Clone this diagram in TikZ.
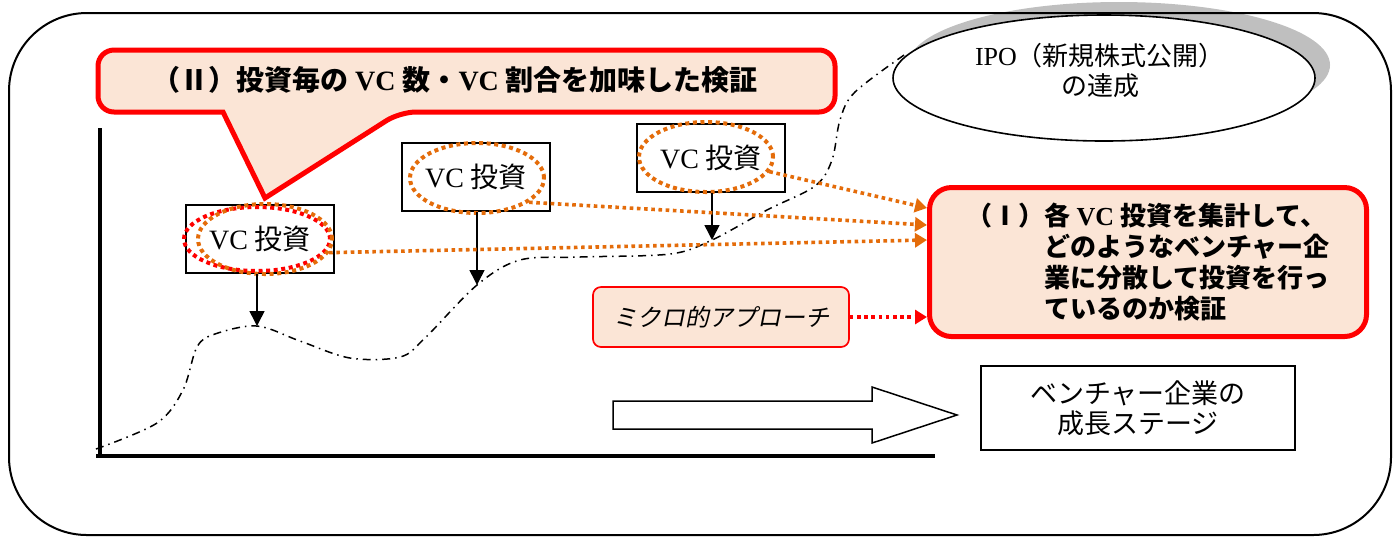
\documentclass[tikz,border=0pt]{standalone}
\usepackage{fontspec}
\setmainfont{Liberation Serif}
\newfontfamily\jp{Noto Sans CJK JP}
\newfontfamily\jpit{Noto Sans CJK JP}[FakeSlant=0.2]
\newcommand{\ja}[1]{{\jp #1}}
\usetikzlibrary{arrows.meta,shapes.geometric,calc}
\definecolor{peach}{HTML}{FBE5D6}
\definecolor{vcorange}{HTML}{E46C0A}
\definecolor{shadowgray}{HTML}{BFBFBF}

\begin{document}
\begin{tikzpicture}[x=0.5pt,y=-0.5pt,
    vcbox/.style={draw, line width=0.75pt, fill=white, minimum width=74pt, minimum height=34pt, inner sep=0pt, font=\fontsize{14}{16}\selectfont},
    vcring/.style={ellipse, draw=vcorange, line width=2pt, dash pattern=on 2pt off 1.8pt, minimum width=67pt, minimum height=35pt, inner sep=0pt},
    growth/.style={line width=0.75pt, dash pattern=on 4pt off 2.5pt on 0.75pt off 2.5pt},
    down/.style={-{Triangle[length=7.5pt,width=7.5pt]}, line width=0.75pt},
    feed/.style={vcorange, line width=1.8pt, dash pattern=on 1.8pt off 1.8pt, -{Triangle[length=6pt,width=7pt]}},
    redbox/.style={draw=red, line width=2.5pt, fill=peach}]
    \useasboundingbox (0,0) rectangle (1400,538);

    % frame and IPO goal
    \fill[shadowgray] (1119,65) ellipse [x radius=105.5pt, y radius=31.5pt];
    \draw[line width=1pt, rounded corners=39pt] (9,13) rectangle (1391,535);

    % axes
    \draw[line width=1.8pt] (100,128) -- (100,456);
    \draw[line width=1.8pt] (96,456) -- (935,456);

    % growth curve
    \coordinate (dipA) at (257,326);
    \coordinate (dipB) at (477,285);
    \coordinate (dipC) at (712,240);
    \draw[growth] plot[smooth, tension=0.55] coordinates {(96,449) (157,423) (183,390) (197,347) (215,334) (dipA) (300,341) (350,358) (400,357) (425,338) (dipB) (520,260) (580,257) (670,254) (dipC) (767,210) (815,186) (832,160) (840,120) (855,92) (907,53)};

    \node[ellipse, draw, fill=white, line width=0.8pt, minimum width=211pt, minimum height=63pt, inner sep=0pt] (ipo) at (1104,78) {};
    \node[align=center, font=\fontsize{13}{15}\selectfont] (ipotext) at (1100,70) {IPO\ja{（新規株式公開）}\\\ja{の達成}};

    % growth stage
    \draw[line width=0.75pt, fill=white] (613,401) -- (872,401) -- (872,387) -- (957,415) -- (872,443) -- (872,429) -- (613,429) -- cycle;
    \node[draw, line width=0.75pt, minimum width=157pt, minimum height=42pt, align=center, font=\fontsize{13.5}{15}\selectfont] (stage) at (1138,408) {\ja{ベンチャー企業の}\\\ja{成長ステージ}};

    % VC investments
    \foreach \n/\x/\y in {A/260/239, B/476/177, C/711/158}
    {
        \node[vcbox] (box\n) at (\x,\y) {VC \ja{投資}};
    }
    \node[vcring, draw=red, minimum width=73pt, minimum height=32pt] (ringAred) at (257,239) {};
    \foreach \n/\x/\y in {A/265/239, B/477/178, C/706/157}
    {
        \node[vcring] (ring\n) at (\x,\y) {};
    }
    \foreach \n in {A,B,C}
    {
        \draw[down] (box\n.south -| dip\n) -- (dip\n);
    }

    % verification (I)
    \node[redbox, rounded corners=11pt, minimum width=218.5pt, minimum height=74.5pt, align=left, font=\bfseries\fontsize{13}{15.5}\selectfont] (verify1) at (1148,262) {\ja{（Ⅰ）各} VC \ja{投資を集計して、}\\\phantom{\ja{（Ⅰ）}}\ja{どのようなベンチャー企}\\\phantom{\ja{（Ⅰ）}}\ja{業に分散して投資を行っ}\\\phantom{\ja{（Ⅰ）}}\ja{ているのか検証}};
    \coordinate (inC) at (927,208);
    \coordinate (inB) at (927,225);
    \coordinate (inA) at (927,240);
    \foreach \n/\a in {A/-12, B/-25, C/-13}
    {
        \draw[feed] (ring\n.\a) -- (in\n);
    }

    \node[draw=red, line width=0.85pt, fill=peach, rounded corners=4pt, minimum width=128pt, minimum height=30pt, font=\jpit\fontsize{12}{14}\selectfont] (micro) at (721,317) {ミクロ的アプローチ};
    \draw[feed, red] (micro.east) -- (micro.east -| verify1.west);

    % verification (II) callout
    \draw[redbox] (160,50) [rounded corners=8pt] -- (835,50) -- (835,112) -- (400,112) [sharp corners] -- (265,198) -- (223,112) [rounded corners=8pt] -- (98,112) -- (98,50) -- cycle;
    \node[font=\bfseries\fontsize{14}{16}\selectfont] (verify2) at (455,80) {\ja{（Ⅱ）投資毎の} VC \ja{数・}VC \ja{割合を加味した検証}};
\end{tikzpicture}
\end{document}
